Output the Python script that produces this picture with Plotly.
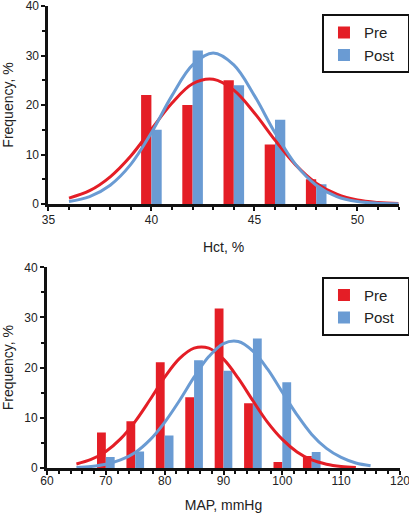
import plotly.graph_objects as go
from plotly.subplots import make_subplots

# ---- Data ----
hct_bins = [40, 42, 44, 46, 48]
hct_pre = [22, 20, 25, 12, 5]
hct_post = [15, 31, 24, 17, 4]

hct_curve_x = [36, 37, 38, 39, 40, 41, 42, 43, 44, 45, 46, 47, 48, 49, 50, 51, 52]
hct_pre_curve = [1.2, 2.7, 5.5, 9.7, 15.1, 20.4, 24.3, 25.2, 23.0, 18.4, 12.9, 7.9, 4.2, 2.0, 0.8, 0.3, 0.1]
hct_post_curve = [0.5, 1.5, 3.8, 8.0, 14.4, 21.9, 28.1, 30.5, 28.1, 21.9, 14.4, 8.0, 3.8, 1.5, 0.5, 0.15, 0.04]

map_bins = [70, 75, 80, 85, 90, 95, 100, 105]
map_pre = [7.1, 9.3, 21.1, 14.1, 31.8, 12.9, 1.2, 2.4]
map_post = [2.2, 3.3, 6.5, 21.5, 19.4, 25.8, 17.1, 3.2]

map_pre_curve_x = [65, 67.5, 70, 72.5, 75, 77.5, 80, 82.5, 85, 87.5, 90, 92.5, 95, 97.5,
                   100, 102.5, 105, 107.5, 110, 112.5]
map_pre_curve = [0.8, 1.7, 3.3, 5.8, 9.3, 13.6, 18.1, 21.8, 23.9, 23.9, 21.7, 17.9, 13.4, 9.1,
                 5.7, 3.2, 1.6, 0.76, 0.32, 0.12]
map_post_curve_x = [65, 67.5, 70, 72.5, 75, 77.5, 80, 82.5, 85, 87.5, 90, 92.5, 95, 97.5,
                    100, 102.5, 105, 107.5, 110, 112.5, 115]
map_post_curve = [0.12, 0.31, 0.74, 1.6, 3.1, 5.6, 9.1, 13.4, 18.1, 22.2, 24.8, 25.2, 23.3, 19.7,
                  15.1, 10.6, 6.7, 3.9, 2.1, 0.99, 0.43]

series_names = ["Pre", "Post\u00a0\u00a0"]

RED = "#E41E26"
BLUE = "#6A9BD3"
FONT = "Liberation Sans, Arial, sans-serif"

fig = make_subplots(rows=2, cols=1)

# Top: Hct
fig.add_trace(go.Bar(x=hct_bins, y=hct_pre, name=series_names[0], marker=dict(color=RED, line=dict(width=0)),
                     offset=-0.5, width=0.5, legend="legend"), row=1, col=1)
fig.add_trace(go.Bar(x=hct_bins, y=hct_post, name=series_names[1], marker=dict(color=BLUE, line=dict(width=0)),
                     offset=0, width=0.5, legend="legend"), row=1, col=1)
fig.add_trace(go.Scatter(x=hct_curve_x, y=hct_pre_curve, mode="lines", line=dict(color=RED, width=3, shape="spline"),
                         showlegend=False), row=1, col=1)
fig.add_trace(go.Scatter(x=hct_curve_x, y=hct_post_curve, mode="lines", line=dict(color=BLUE, width=3, shape="spline"),
                         showlegend=False), row=1, col=1)

# Bottom: MAP
fig.add_trace(go.Bar(x=map_bins, y=map_pre, name=series_names[0], marker=dict(color=RED, line=dict(width=0)),
                     offset=-1.5, width=1.5, legend="legend2"), row=2, col=1)
fig.add_trace(go.Bar(x=map_bins, y=map_post, name=series_names[1], marker=dict(color=BLUE, line=dict(width=0)),
                     offset=0, width=1.5, legend="legend2"), row=2, col=1)
fig.add_trace(go.Scatter(x=map_pre_curve_x, y=map_pre_curve, mode="lines", line=dict(color=RED, width=3, shape="spline"),
                         showlegend=False), row=2, col=1)
fig.add_trace(go.Scatter(x=map_post_curve_x, y=map_post_curve, mode="lines", line=dict(color=BLUE, width=3, shape="spline"),
                         showlegend=False), row=2, col=1)

axis_common = dict(showline=True, linewidth=3, linecolor="#111111", showgrid=False, zeroline=False,
                   ticks="outside", ticklen=4, tickwidth=2, tickcolor="#111111",
                   ticklabeloverflow="allow",
                   tickfont=dict(size=12, color="#222222", family=FONT))

fig.update_xaxes(**axis_common)
fig.update_yaxes(**axis_common)

TITLE_FONT = dict(size=14, color="#222222", family=FONT)
MINOR = dict(ticks="outside", ticklen=3, tickwidth=2, tickcolor="#111111")

fig.update_layout(
    xaxis=dict(domain=[0.004, 0.996], range=[35, 52], tickvals=[35, 40, 45, 50],
               minor=dict(dtick=1, tick0=35, **MINOR),
               title=dict(text="Hct, %", font=TITLE_FONT, standoff=16),
               ticklabelstandoff=-1),
    yaxis=dict(domain=[0.5714, 1.0], range=[0, 40], tickvals=[0, 10, 20, 30, 40],
               minor=dict(dtick=5, tick0=0, **MINOR),
               title=dict(text="Frequency, %", font=TITLE_FONT, standoff=10)),
    xaxis2=dict(domain=[0.0, 1.0], range=[60, 120], tickvals=[60, 70, 80, 90, 100, 110, 120],
                minor=dict(dtick=2, tick0=60, **MINOR),
                title=dict(text="MAP, mmHg", font=TITLE_FONT, standoff=13),
                ticklabelstandoff=-4),
    yaxis2=dict(domain=[0.0, 0.4344], range=[0, 40], tickvals=[0, 10, 20, 30, 40],
                minor=dict(dtick=5, tick0=0, **MINOR),
                title=dict(text="Frequency, %", font=TITLE_FONT, standoff=10)),
    barmode="overlay",
    legend=dict(x=0.779, y=0.982, xanchor="left", yanchor="top", bordercolor="#111111", borderwidth=2,
                bgcolor="white", font=dict(size=15, color="#222222", family=FONT), itemwidth=30),
    legend2=dict(x=0.779, y=0.414, xanchor="left", yanchor="top", bordercolor="#111111", borderwidth=2,
                 bgcolor="white", font=dict(size=15, color="#222222", family=FONT), itemwidth=30),
    width=409, height=517,
    margin=dict(l=47, r=9, t=6, b=49, autoexpand=False),
    plot_bgcolor="white", paper_bgcolor="white",
    font=dict(family=FONT, color="#222222"),
)

fig.write_html("out.html", config={"displayModeBar": False},
               post_script="document.body.style.margin='0';document.body.style.overflow='hidden';")
